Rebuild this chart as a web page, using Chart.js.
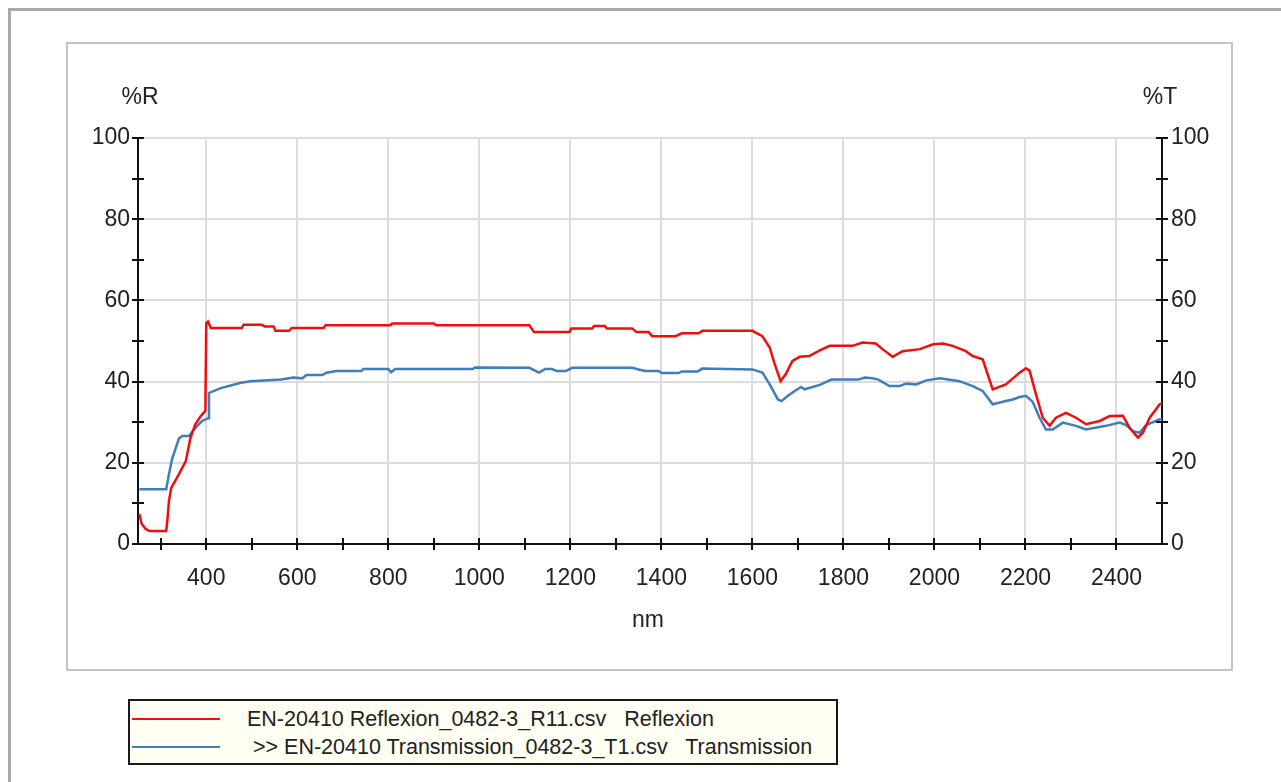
<!DOCTYPE html>
<html>
<head>
<meta charset="utf-8">
<script src="https://cdn.jsdelivr.net/npm/chart.js@4.4.1/dist/chart.umd.min.js"></script>
<style>
  body { margin: 0; background: #fff; font-family: "Liberation Sans", Arial, sans-serif; color: #222; }
  #outer { position: absolute; left: 8px; top: 8px; width: 1400px; height: 900px; border-left: 3px solid #a9a9a9; border-top: 3px solid #a9a9a9; }
  #frame { position: absolute; left: 66px; top: 42px; width: 1163px; height: 625px; border: 2px solid #c4c4c4; background: #fff; }
  #frame canvas { position: absolute; left: 0; top: 0; }
  .atitle { position: absolute; font-size: 23px; transform: translate(-50%, -50%); white-space: nowrap; }
  #legend { position: absolute; left: 128px; top: 699px; width: 706px; height: 62px; border: 2px solid #1a1a1a; background: #fffff3; }
  .row { position: absolute; left: 0; height: 28px; font-size: 21.5px; white-space: pre; }
  .row .swatch { position: absolute; left: 2px; top: 13px; width: 88px; height: 2px; }
  .row .txt { position: absolute; top: 1px; line-height: 26px; }
</style>
</head>
<body>
<div id="outer"></div>
<div id="frame"><canvas id="chart" width="1163" height="625"></canvas></div>
<div class="atitle" style="left:140px; top:96px;">%R</div>
<div class="atitle" style="left:1160px; top:96px;">%T</div>
<div class="atitle" style="left:648px; top:619px;">nm</div>
<div id="legend"></div>

<script>
// === Datos ===
const reflexNm = [253, 258, 266, 275, 312, 315, 318, 323, 340, 355, 365, 376, 388, 398, 400, 404, 410, 478, 482, 522, 528, 548, 552, 582, 588, 658, 662, 805, 808, 900, 905, 1110, 1120, 1198, 1202, 1248, 1252, 1276, 1280, 1336, 1345, 1372, 1380, 1431, 1445, 1482, 1490, 1600, 1622, 1638, 1649, 1662, 1673, 1688, 1704, 1725, 1748, 1770, 1820, 1842, 1871, 1886, 1908, 1930, 1968, 1997, 2019, 2040, 2069, 2084, 2106, 2128, 2157, 2187, 2201, 2209, 2223, 2238, 2253, 2267, 2289, 2311, 2333, 2363, 2385, 2414, 2429, 2447, 2458, 2473, 2495, 2500];
const reflexVal = [7.4, 5.0, 3.8, 3.2, 3.2, 6.4, 10.6, 13.8, 17.2, 20.4, 26.0, 29.5, 31.5, 32.8, 54.4, 54.8, 53.2, 53.2, 54.0, 54.0, 53.6, 53.6, 52.5, 52.5, 53.2, 53.2, 53.9, 53.9, 54.3, 54.3, 53.9, 53.9, 52.2, 52.2, 53.1, 53.1, 53.7, 53.7, 53.1, 53.1, 52.2, 52.2, 51.2, 51.2, 51.9, 51.9, 52.5, 52.5, 51.2, 48.4, 44.3, 40.1, 41.8, 45.1, 46.1, 46.3, 47.7, 48.8, 48.8, 49.6, 49.4, 48.0, 46.1, 47.5, 48.0, 49.2, 49.4, 48.8, 47.5, 46.3, 45.5, 38.1, 39.3, 42.2, 43.3, 42.7, 36.9, 31.1, 29.1, 31.1, 32.3, 31.1, 29.5, 30.3, 31.5, 31.6, 28.6, 26.2, 27.4, 31.1, 34.4, 34.6];

const transNm = [253, 312, 318, 325, 340, 347, 362, 375, 391, 404, 406, 432, 476, 498, 564, 592, 611, 620, 655, 664, 686, 741, 745, 800, 806, 815, 986, 990, 1110, 1131, 1145, 1160, 1170, 1190, 1204, 1336, 1350, 1365, 1394, 1401, 1438, 1445, 1480, 1489, 1600, 1622, 1638, 1656, 1664, 1678, 1693, 1707, 1715, 1748, 1774, 1833, 1847, 1864, 1877, 1901, 1923, 1938, 1960, 1982, 2012, 2055, 2084, 2106, 2128, 2157, 2172, 2187, 2201, 2216, 2231, 2245, 2260, 2282, 2311, 2333, 2377, 2407, 2421, 2436, 2451, 2465, 2495, 2500];
const transVal = [13.5, 13.5, 17.2, 21.0, 26.0, 26.6, 26.6, 28.5, 30.3, 31.0, 37.2, 38.4, 39.7, 40.1, 40.5, 41.0, 40.8, 41.6, 41.6, 42.2, 42.6, 42.6, 43.1, 43.1, 42.3, 43.1, 43.1, 43.5, 43.4, 42.2, 43.1, 43.1, 42.6, 42.6, 43.4, 43.4, 43.0, 42.6, 42.6, 42.1, 42.1, 42.5, 42.5, 43.2, 43.0, 42.2, 39.3, 35.6, 35.2, 36.5, 37.7, 38.7, 38.1, 39.2, 40.5, 40.5, 41.0, 40.8, 40.5, 38.9, 38.9, 39.5, 39.3, 40.3, 40.8, 40.1, 38.9, 37.7, 34.4, 35.2, 35.6, 36.2, 36.5, 35.0, 31.1, 28.2, 28.2, 29.9, 29.1, 28.2, 29.1, 29.9, 29.3, 27.8, 27.4, 29.3, 30.7, 30.7];

const xTicks = [300, 400, 500, 600, 700, 800, 900, 1000, 1100, 1200, 1300, 1400, 1500, 1600, 1700, 1800, 1900, 2000, 2100, 2200, 2300, 2400];
const yTicks = [0, 10, 20, 30, 40, 50, 60, 70, 80, 90, 100];

const seriesLabels = [
  "EN-20410 Reflexion_0482-3_R11.csv   Reflexion",
  " >> EN-20410 Transmission_0482-3_T1.csv   Transmission"
];
const seriesColors = ["#f20d0d", "#3f7dbb"];

const toPoints = (xs, ys) => xs.map((x, i) => ({ x: x, y: ys[i] }));

// === Marcas de eje que cruzan la linea ===
const crossTicks = {
  id: "crossTicks",
  afterDraw(chart) {
    const ctx = chart.ctx;
    const x = chart.scales.x, y = chart.scales.y, y2 = chart.scales.y2;
    ctx.save();
    ctx.strokeStyle = "#111";
    ctx.lineWidth = 2;
    ctx.beginPath();
    xTicks.forEach(v => {
      const px = Math.round(x.getPixelForValue(v));
      ctx.moveTo(px, x.top - 6); ctx.lineTo(px, x.top + 6);
    });
    yTicks.forEach(v => {
      const py = Math.round(y.getPixelForValue(v));
      ctx.moveTo(y.right - 6, py); ctx.lineTo(y.right + 6, py);
      ctx.moveTo(y2.left - 6, py); ctx.lineTo(y2.left + 6, py);
    });
    ctx.stroke();
    ctx.restore();
  }
};

Chart.defaults.font.family = "'Liberation Sans', Arial, sans-serif";
Chart.defaults.color = "#222";

const chart = new Chart(document.getElementById("chart"), {
  type: "line",
  data: {
    datasets: [
      { label: seriesLabels[0], data: toPoints(reflexNm, reflexVal), borderColor: seriesColors[0], borderWidth: 2.5, pointRadius: 0, tension: 0, yAxisID: "y" },
      { label: seriesLabels[1], data: toPoints(transNm, transVal), borderColor: seriesColors[1], borderWidth: 2.5, pointRadius: 0, tension: 0, yAxisID: "y" }
    ]
  },
  options: {
    responsive: false,
    animation: false,
    devicePixelRatio: 1,
    layout: { padding: { top: 94, left: 0, right: 0, bottom: 0 } },
    plugins: { legend: { display: false }, tooltip: { enabled: false } },
    scales: {
      x: {
        type: "linear", min: 250, max: 2500,
        afterBuildTicks: s => { s.ticks = xTicks.map(v => ({ value: v })); },
        afterFit: s => { s.height = 125; },
        ticks: { autoSkip: false, maxRotation: 0, padding: 21, font: { size: 23 },
                 callback: v => (v % 200 === 0 ? v : "") },
        grid: { drawTicks: false, lineWidth: 2,
                color: c => (c.tick && c.tick.value % 200 === 0 ? "#dcdcdc" : "rgba(0,0,0,0)") },
        border: { color: "#111", width: 2 }
      },
      y: {
        position: "left", min: 0, max: 100,
        afterBuildTicks: s => { s.ticks = yTicks.map(v => ({ value: v })); },
        afterFit: s => { s.width = 70; },
        ticks: { padding: 8, font: { size: 23 }, callback: v => (v % 20 === 0 ? v : "") },
        grid: { drawTicks: false, lineWidth: 2,
                color: c => (c.tick && c.tick.value % 20 === 0 && c.tick.value > 0 ? "#dcdcdc" : "rgba(0,0,0,0)") },
        border: { color: "#111", width: 2 }
      },
      y2: {
        position: "right", min: 0, max: 100,
        afterBuildTicks: s => { s.ticks = yTicks.map(v => ({ value: v })); },
        afterFit: s => { s.width = 69; },
        ticks: { padding: 9, font: { size: 23 }, callback: v => (v % 20 === 0 ? v : "") },
        grid: { display: false, drawTicks: false },
        border: { color: "#111", width: 2 }
      }
    }
  },
  plugins: [crossTicks]
});

// === Leyenda ===
const legend = document.getElementById("legend");
chart.data.datasets.forEach((ds, i) => {
  const row = document.createElement("div");
  row.className = "row";
  row.style.top = (4 + i * 28) + "px";
  row.innerHTML = `<div class="swatch" style="background:${ds.borderColor}"></div>` +
                  `<div class="txt" style="left:117px">${ds.label.replace(/>/g, "&gt;")}</div>`;
  legend.appendChild(row);
});
</script>
</body>
</html>
